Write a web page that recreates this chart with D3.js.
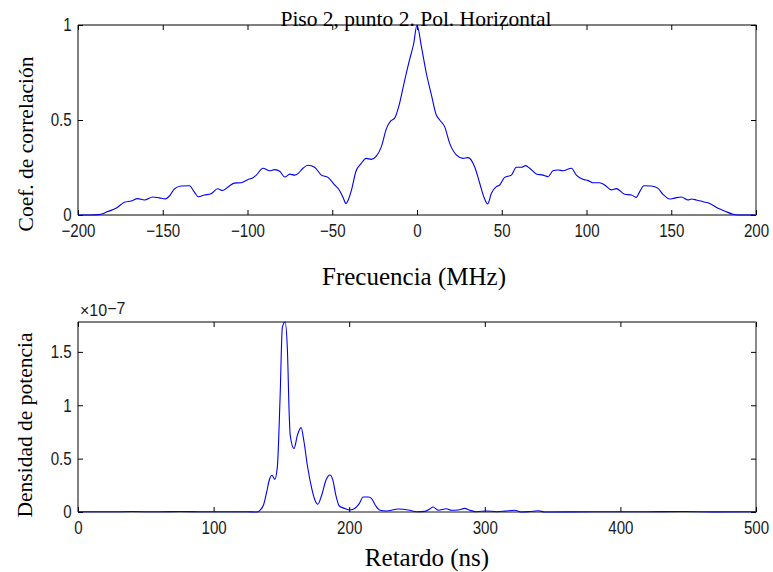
<!DOCTYPE html>
<html>
<head>
<meta charset="utf-8">
<script src="https://cdn.jsdelivr.net/npm/d3@7"></script>
<style>
  html, body { margin: 0; padding: 0; background: #fff; }
  svg { display: block; }
  .tick text { font-family: "Liberation Sans", Arial, sans-serif; font-size: 18px; fill: #1a1a1a; }
  .tick line { stroke: #000; }
  .serif { font-family: "Liberation Serif", "Times New Roman", serif; fill: #000; }
  .expo { font-family: "Liberation Sans", Arial, sans-serif; font-size: 16px; fill: #1a1a1a; }
</style>
</head>
<body>
<svg id="fig" width="773" height="572"></svg>
<script>
// Frequency correlation (upper panel)
const freqMHz = [-200,-192,-188,-185,-182.5,-177.6,-172.6,-168.7,-164.8,-160.8,-155.9,-152,-148.5,-146,-143.1,-139.2,-134.3,-131.3,-129,-125.4,-121.5,-117.6,-114.6,-110.7,-107.7,-103.8,-99.9,-97,-94.8,-90.9,-86.9,-84,-81,-78,-75,-72.2,-70.2,-67.3,-64.3,-60.4,-56.4,-52.5,-48.6,-45.6,-43.5,-41.9,-40.5,-38.7,-36,-33,-30,-27,-24,-21,-18,-15.5,-13.2,-10.5,-8,-4.3,-2,0,
  2.6,5.5,8.5,11.4,13.4,16.3,19.3,23.2,27.1,30.1,34,37,39.4,41.7,43.9,46.8,48.8,51.7,55.7,58.6,61.6,64.1,66.5,70.4,74.3,77.3,80.2,83.2,86.1,91.1,94,97.9,100.9,103.8,107.8,110.7,114.7,117.6,122.5,126.5,129.4,131.4,133.9,138.3,142.2,145.1,149.1,152,156,159.9,161.9,164.8,168.7,172.7,177.6,181.5,186.4,189.4,200];
const corrCoef = [0,0,0.002,0.008,0.018,0.035,0.067,0.074,0.086,0.079,0.095,0.09,0.085,0.1,0.137,0.153,0.154,0.12,0.096,0.105,0.112,0.138,0.129,0.153,0.168,0.17,0.186,0.195,0.21,0.246,0.233,0.239,0.23,0.2,0.215,0.21,0.218,0.246,0.262,0.251,0.21,0.198,0.158,0.128,0.09,0.06,0.08,0.13,0.23,0.27,0.298,0.293,0.31,0.36,0.456,0.495,0.51,0.58,0.68,0.82,0.9,1.0,
  0.886,0.746,0.632,0.526,0.5,0.465,0.377,0.316,0.298,0.302,0.254,0.167,0.096,0.058,0.114,0.149,0.158,0.198,0.21,0.251,0.251,0.26,0.246,0.216,0.21,0.202,0.233,0.237,0.233,0.246,0.21,0.188,0.181,0.17,0.17,0.158,0.132,0.139,0.109,0.105,0.093,0.123,0.154,0.153,0.14,0.109,0.084,0.089,0.095,0.079,0.084,0.079,0.07,0.061,0.035,0.021,0.004,0,0];
const freqTicks = [-200,-150,-100,-50,0,50,100,150,200];
const corrTicks = [0,0.5,1];

// Power delay profile (lower panel), values in units of 1e-7
const delayNs = [0,20,40,60,75,90,110,125,131.6,134.2,136.7,139.2,141.1,143.1,145.1,147,149,150.7,152.7,154.4,155.8,156.5,159.3,161.8,164.5,166.7,169.1,172.4,174.8,176.8,179.7,182.9,185.8,187.8,190.3,192.7,196.9,200.6,204.3,207.4,210.4,214.1,216.5,219.7,222.7,227.5,236.1,244.7,249.6,255.8,259.4,261.9,265.6,271.7,275.4,280.3,285.3,289,293.9,301.3,308.7,315,322.2,327.1,333,339.4,344.3,380,420,448,470,500];
const powerE7 = [0.003,0.002,0.004,0.002,0.005,0.003,0.002,0.003,0,0.016,0.063,0.19,0.3,0.344,0.306,0.42,1.06,1.73,1.78,1.53,0.9,0.72,0.594,0.72,0.79,0.656,0.44,0.22,0.11,0.072,0.157,0.3,0.347,0.306,0.15,0.056,0.032,0.019,0.035,0.079,0.14,0.14,0.125,0.056,0.016,0.01,0.028,0.016,0.003,0.006,0.028,0.047,0.016,0.031,0.016,0.019,0.034,0.016,0.003,0.01,0.003,0.008,0.016,0,0.004,0.012,0,0.002,0.003,0.004,0.001,0.002];
const delayTicks = [0,100,200,300,400,500];
const powerTicks = [0,0.5,1,1.5];

const svg = d3.select("#fig");
const TICK = 5;
const NARROW = 0.84; // horizontal squeeze of tick labels

function panel(box, xs, ys, xTicks, yTicks, xFmt, yFmt, xs2, ys2, bottomGray) {
  const g = svg.append("g");
  const x = d3.scaleLinear().domain(xs).range([box.left, box.right]);
  const y = d3.scaleLinear().domain(ys).range([box.bottom, box.top]);

  // frame
  g.append("line").attr("x1", box.left).attr("x2", box.right).attr("y1", box.top).attr("y2", box.top)
    .attr("stroke", "#000").attr("stroke-width", 1);
  g.append("line").attr("x1", box.left).attr("x2", box.left).attr("y1", box.top).attr("y2", box.bottom)
    .attr("stroke", "#000").attr("stroke-width", 1);
  g.append("line").attr("x1", box.left).attr("x2", box.right).attr("y1", box.bottom).attr("y2", box.bottom)
    .attr("stroke", bottomGray ? "#8a8a8a" : "#000").attr("stroke-width", bottomGray ? 2 : 1);
  g.append("line").attr("x1", box.right).attr("x2", box.right).attr("y1", box.top - 0.5).attr("y2", box.bottom + 0.5)
    .attr("stroke", "#8a8a8a").attr("stroke-width", 2);

  const axB = g.append("g").attr("transform", `translate(0,${box.bottom})`)
    .call(d3.axisBottom(x).tickValues(xTicks).tickSizeInner(-TICK).tickSizeOuter(0).tickPadding(9).tickFormat(xFmt));
  const axT = g.append("g").attr("transform", `translate(0,${box.top})`)
    .call(d3.axisTop(x).tickValues(xTicks).tickSizeInner(-TICK).tickSizeOuter(0).tickFormat(""));
  const axL = g.append("g").attr("transform", `translate(${box.left},0)`)
    .call(d3.axisLeft(y).tickValues(yTicks).tickSizeInner(-TICK).tickSizeOuter(0).tickPadding(7.5).tickFormat(yFmt));
  const axR = g.append("g").attr("transform", `translate(${box.right},0)`)
    .call(d3.axisRight(y).tickValues(yTicks).tickSizeInner(-TICK).tickSizeOuter(0).tickFormat(""));
  [axB, axT, axL, axR].forEach(a => { a.select(".domain").remove(); a.attr("font-family", null).attr("font-size", null); });
  axB.selectAll(".tick text").attr("transform", `scale(${NARROW},1)`);
  axL.selectAll(".tick text").attr("transform", `scale(${NARROW},1)`);

  const line = d3.line().x(d => x(d[0])).y(d => y(d[1])).curve(d3.curveMonotoneX);
  g.append("path").datum(d3.zip(xs2, ys2))
    .attr("d", line).attr("fill", "none").attr("stroke", "#0000ee").attr("stroke-width", 1.1)
    .attr("stroke-linejoin", "round");
  return g;
}

const topBox = { left: 78, right: 756, top: 25, bottom: 215 };
const botBox = { left: 78, right: 756, top: 322, bottom: 512 };

panel(topBox, [-200, 200], [0, 1], freqTicks, corrTicks, d3.format("d"), d3.format("~g"), freqMHz, corrCoef, false);
panel(botBox, [0, 500], [0, d3.max(powerE7)], delayTicks, powerTicks, d3.format("d"), d3.format("~g"), delayNs, powerE7, true);

// titles and axis labels
svg.append("text").attr("class", "serif").attr("x", 416).attr("y", 26)
  .attr("text-anchor", "middle").attr("font-size", 21.5).text("Piso 2, punto 2. Pol. Horizontal");
svg.append("text").attr("class", "serif").attr("x", 414).attr("y", 285)
  .attr("text-anchor", "middle").attr("font-size", 25).text("Frecuencia (MHz)");
svg.append("text").attr("class", "serif").attr("x", 427).attr("y", 566)
  .attr("text-anchor", "middle").attr("font-size", 25).text("Retardo (ns)");
svg.append("text").attr("class", "serif").attr("transform", "translate(33,144) rotate(-90)")
  .attr("text-anchor", "middle").attr("font-size", 21.5).text("Coef. de correlación");
svg.append("text").attr("class", "serif").attr("transform", "translate(32,425) rotate(-90)")
  .attr("text-anchor", "middle").attr("font-size", 21.5).text("Densidad de potencia");

// exponent of the lower y axis
const ex = svg.append("text").attr("class", "expo").attr("x", 80).attr("y", 316);
ex.append("tspan").text("×10");
ex.append("tspan").attr("dy", -2).text("−7");
</script>
</body>
</html>
